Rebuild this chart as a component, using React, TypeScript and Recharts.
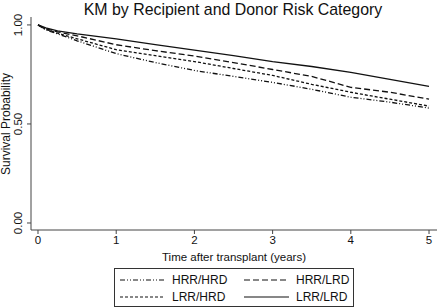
import React from "react";
import { LineChart, Line, XAxis, YAxis, Legend } from "recharts";

// years after transplant
const times = [0, 0.1, 0.25, 0.5, 1, 1.5, 2, 2.5, 3, 3.5, 4, 4.5, 5];

// survival probability per group
const hrrHrd = [1, 0.975, 0.955, 0.92, 0.855, 0.81, 0.77, 0.74, 0.71, 0.675, 0.635, 0.61, 0.58];
const hrrLrd = [1, 0.98, 0.965, 0.945, 0.9, 0.87, 0.843, 0.81, 0.775, 0.74, 0.685, 0.66, 0.625];
const lrrHrd = [1, 0.978, 0.958, 0.93, 0.875, 0.845, 0.815, 0.78, 0.745, 0.7, 0.66, 0.625, 0.59];
const lrrLrd = [1, 0.985, 0.97, 0.955, 0.93, 0.9, 0.873, 0.845, 0.815, 0.79, 0.76, 0.725, 0.69];

const xTicks = [0, 1, 2, 3, 4, 5];
const yTicks = [0, 0.5, 1];

const data = times.map((t, i) => ({
  t,
  hrrHrd: hrrHrd[i],
  hrrLrd: hrrLrd[i],
  lrrHrd: lrrHrd[i],
  lrrLrd: lrrLrd[i],
}));

const FONT = "'Liberation Sans', Arial, sans-serif";
const INK = "#111";
const AXIS = "#444";

const series = [
  { key: "hrrHrd", name: "HRR/HRD", dash: "5 2 1 2 1 2" },
  { key: "hrrLrd", name: "HRR/LRD", dash: "6 3" },
  { key: "lrrHrd", name: "LRR/HRD", dash: "3 2" },
  { key: "lrrLrd", name: "LRR/LRD", dash: undefined },
];

function YTick(props: any) {
  const { x, y, payload } = props;
  const bx = x - 3;
  return (
    <text
      x={bx}
      y={y}
      transform={`rotate(-90 ${bx} ${y})`}
      textAnchor="middle"
      fontSize={11.5}
      fill={INK}
      fontFamily={FONT}
    >
      {payload.value.toFixed(2)}
    </text>
  );
}

function KmLegend() {
  return (
    <div
      style={{
        boxSizing: "border-box",
        width: 240,
        height: 39,
        border: "1px solid #333",
        background: "#fff",
        display: "grid",
        gridTemplateColumns: "124px 110px",
        gridTemplateRows: "17px 17px",
        padding: "2px 0 0 5px",
        fontFamily: FONT,
        fontSize: 12,
        color: INK,
      }}
    >
      {series.map((s) => (
        <div key={s.key} style={{ display: "flex", alignItems: "center" }}>
          <svg width={46} height={10} style={{ marginRight: 6 }}>
            <line x1={0} y1={5} x2={45} y2={5} stroke={INK} strokeWidth={1.2} strokeDasharray={s.dash} />
          </svg>
          <span>{s.name}</span>
        </div>
      ))}
    </div>
  );
}

export default function App() {
  return (
    <div style={{ position: "absolute", left: 0, top: 0, width: 437, height: 307, background: "#fff" }}>
      <LineChart width={437} height={307} data={data} margin={{ top: 17, right: 0, left: 0, bottom: 42 }}>
        <text x={233} y={15} textAnchor="middle" fontSize={15.9} fill={INK} fontFamily={FONT}>
          KM by Recipient and Donor Risk Category
        </text>
        <text
          x={10}
          y={124}
          transform="rotate(-90 10 124)"
          textAnchor="middle"
          fontSize={12}
          fill={INK}
          fontFamily={FONT}
        >
          Survival Probability
        </text>
        <XAxis
          dataKey="t"
          type="number"
          domain={[-0.0895, 5.102]}
          ticks={xTicks}
          allowDataOverflow
          height={35}
          tickSize={4}
          stroke={AXIS}
          tick={{ fontSize: 11.5, fill: INK, fontFamily: FONT }}
          label={{ value: "Time after transplant (years)", position: "insideBottom", offset: 4, fontSize: 11.5, fill: INK, fontFamily: FONT }}
        />
        <YAxis
          type="number"
          domain={[-0.0354, 1.04]}
          ticks={yTicks}
          allowDataOverflow
          width={31}
          tickSize={4}
          stroke={AXIS}
          tick={<YTick />}
        />
        {series.map((s) => (
          <Line
            key={s.key}
            dataKey={s.key}
            name={s.name}
            type="linear"
            stroke={INK}
            strokeWidth={1.3}
            strokeDasharray={s.dash}
            dot={false}
            isAnimationActive={false}
          />
        ))}
        <Legend
          layout="horizontal"
          verticalAlign="middle"
          align="center"
          wrapperStyle={{ left: 114, top: 268, width: 240, height: 39 }}
          content={() => <KmLegend />}
        />
      </LineChart>
    </div>
  );
}
